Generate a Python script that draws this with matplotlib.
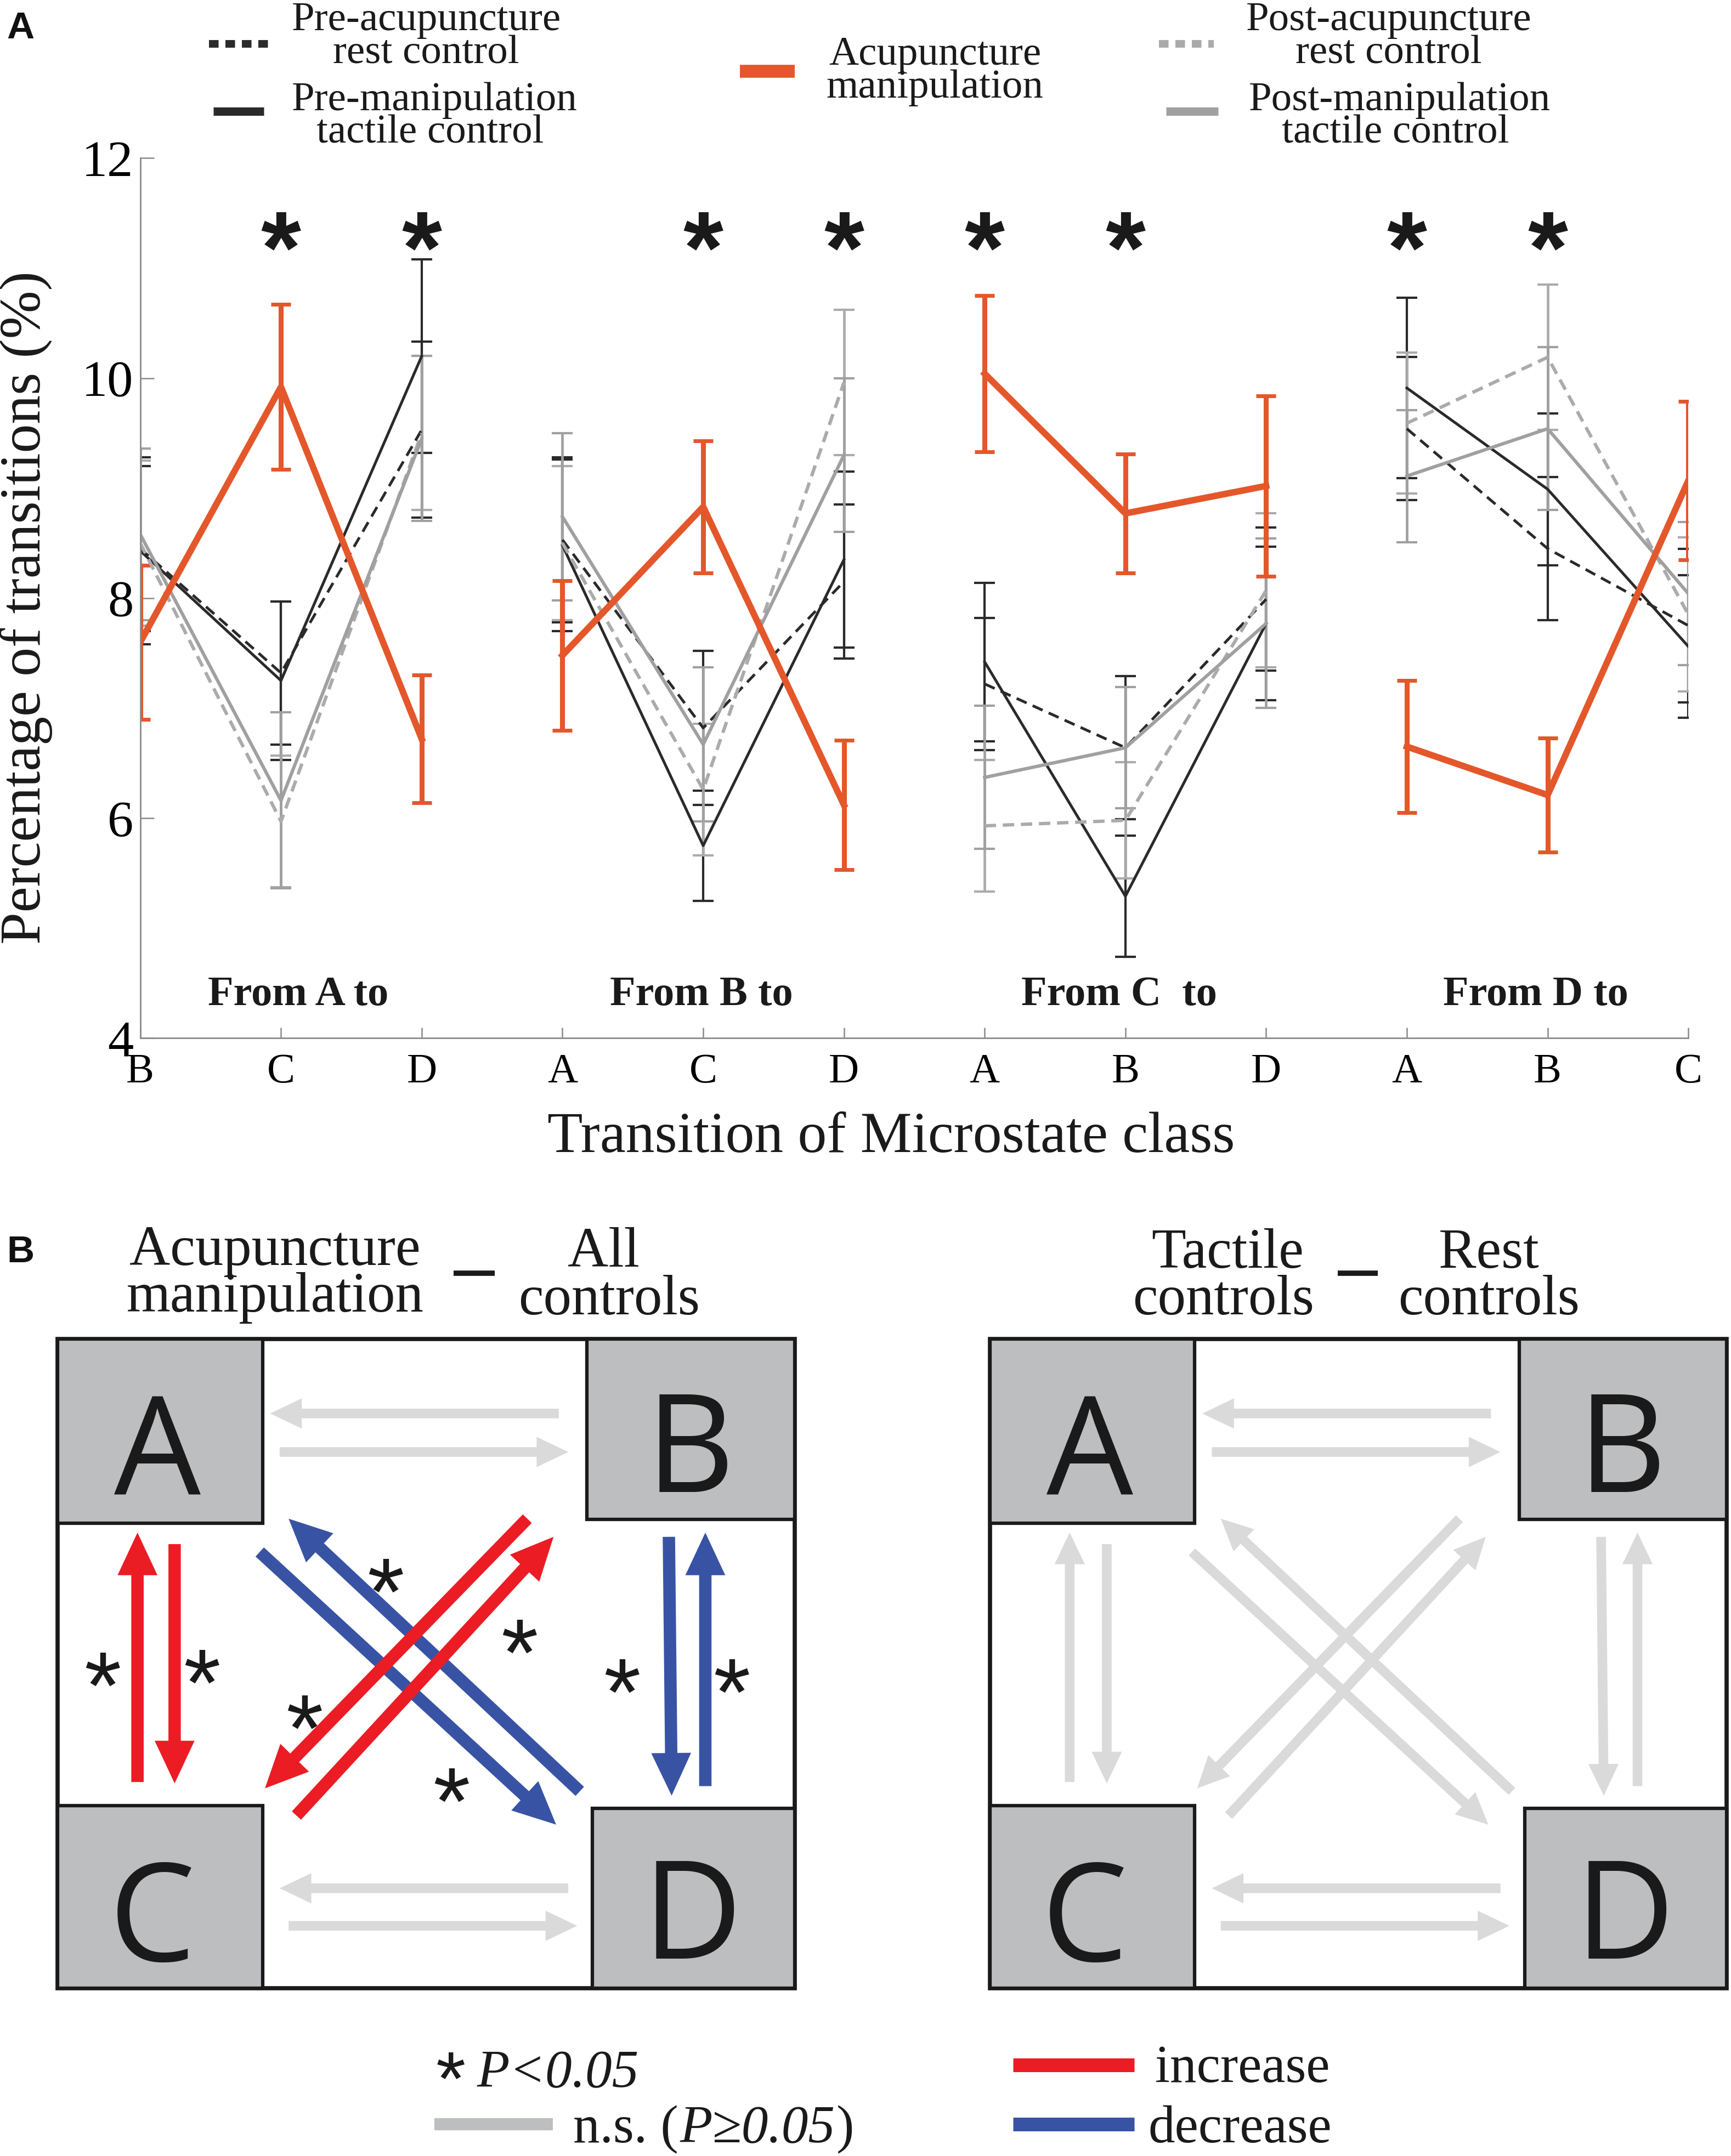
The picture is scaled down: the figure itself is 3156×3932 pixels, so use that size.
import matplotlib
matplotlib.use('Agg')
import matplotlib.pyplot as plt
from matplotlib.patches import Rectangle, FancyArrow
import numpy as np

# ---------------- data (panel A) ----------------
tick_labels = ['B', 'C', 'D', 'A', 'C', 'D', 'A', 'B', 'D', 'A', 'B', 'C']
group_labels = ['From A to', 'From B to', 'From C  to', 'From D to']

pre_rest = [8.45, 7.32, 9.53, 8.53, 6.82, 8.15, 7.22, 6.64, 7.99, 9.54, 8.45, 7.75]
pre_rest_err = [0.75, 0.65, 0.80, 0.75, 0.70, 0.70, 0.60, 0.65, 0.65, 0.65, 0.65, 0.70]
pre_tactile = [8.43, 7.25, 10.20, 8.48, 5.75, 8.35, 7.42, 5.29, 7.77, 9.91, 8.99, 7.56]
pre_tactile_err = [0.85, 0.72, 0.88, 0.78, 0.50, 0.80, 0.72, 0.55, 0.70, 0.82, 0.69, 0.65]
post_rest = [8.50, 5.97, 9.50, 8.50, 6.26, 9.96, 5.93, 5.98, 8.07, 9.59, 10.19, 7.85]
post_rest_err = [0.75, 0.60, 0.70, 0.70, 0.60, 0.66, 0.60, 0.53, 0.70, 0.64, 0.66, 0.70]
post_tactile = [8.58, 6.16, 9.45, 8.74, 6.67, 9.30, 6.37, 6.64, 7.77, 9.11, 9.54, 8.04]
post_tactile_err = [0.78, 0.80, 0.75, 0.76, 0.70, 0.70, 0.65, 0.55, 0.77, 0.60, 0.74, 0.65]
acup = [7.60, 9.92, 6.72, 7.48, 8.83, 6.12, 10.04, 8.77, 9.02, 6.65, 6.21, 9.07]
acup_err = [0.70, 0.75, 0.58, 0.68, 0.60, 0.59, 0.71, 0.54, 0.82, 0.60, 0.52, 0.72]
significant = [1, 2, 4, 5, 6, 7, 9, 10]
yticks = [4, 6, 8, 10, 12]

# ---------------- data (panel B) ----------------
effect_left = {('A', 'B'): 'ns', ('B', 'A'): 'ns', ('C', 'D'): 'ns', ('D', 'C'): 'ns',
               ('A', 'C'): 'inc', ('C', 'A'): 'inc', ('B', 'C'): 'inc', ('C', 'B'): 'inc',
               ('B', 'D'): 'dec', ('D', 'B'): 'dec', ('A', 'D'): 'dec', ('D', 'A'): 'dec'}
effect_right = {k: 'ns' for k in effect_left}

SERIF = ['Liberation Serif', 'DejaVu Serif']
SANS = ['Liberation Sans', 'DejaVu Sans']
BOXFONT = ['Open Sans', 'DejaVu Sans']

ORANGE = '#E4572B'
BLACK = '#2A2A2A'
GRAY = '#A0A0A0'
GRAYD = '#ABABAB'
RED = '#EC1C24'
BLUE = '#3953A4'
NSGRAY = '#DADADA'
BOXGRAY = '#BCBEC0'

W, H = 1259.0, 1568.0
fig = plt.figure(figsize=(31.56, 39.32), dpi=100)
ov = fig.add_axes([0, 0, 1, 1])
ov.set_xlim(0, W)
ov.set_ylim(H, 0)
ov.axis('off')
ov.set_zorder(0)

# ---------------- panel A ----------------
ax = fig.add_axes([102 / W, 1 - 755 / H, 1126 / W, 640 / H])
ax.set_zorder(1)
ax.set_facecolor('none')
x = np.arange(len(tick_labels))

series = [
    (pre_rest, pre_rest_err, BLACK, (0, (4.0, 2.4)), 3.6, 3.0),
    (pre_tactile, pre_tactile_err, BLACK, '-', 3.6, 3.0),
    (post_rest, post_rest_err, GRAYD, (0, (3.4, 2.0)), 4.4, 3.4),
    (post_tactile, post_tactile_err, GRAY, '-', 4.4, 3.4),
    (acup, acup_err, ORANGE, '-', 8.5, 6.5),
]
for vals, errs, col, ls, lw, elw in series:
    vals = np.asarray(vals)
    errs = np.asarray(errs)
    for g in range(4):
        s = slice(3 * g, 3 * g + 3)
        cs = 13 if col == ORANGE else 14
        ct = 5 if col == ORANGE else 3
        ax.errorbar(x[s], vals[s], yerr=errs[s], color=col, lw=lw, ls=ls,
                    elinewidth=elw, capsize=cs, capthick=ct)

ax.set_xlim(0, 11)
ax.set_ylim(4, 12)
ax.set_xticks(x)
ax.set_xticklabels(tick_labels, fontsize=55, family=SERIF)
ax.set_yticks(yticks)
ax.set_yticklabels([str(v) for v in yticks], fontsize=68, family=SERIF)
for sp in ['top', 'right']:
    ax.spines[sp].set_visible(False)
for sp in ['left', 'bottom']:
    ax.spines[sp].set_color('#8A8A8A')
    ax.spines[sp].set_linewidth(2)
ax.tick_params(axis='y', direction='in', length=18, width=1.8, color='#8A8A8A', pad=9)
ax.tick_params(axis='x', direction='in', length=14, width=1.8, color='#8A8A8A', pad=20)
# first x label sits slightly right of its tick in the reference
ax.get_xticklabels()[0].set_x(0.06)

for p in significant:
    ax.text(p, 10.87, '*', ha='center', va='baseline', fontsize=135,
            fontweight='bold', family=SANS, color='#1A1A1A')

for lab, cx in zip(group_labels, [217, 510, 814, 1117]):
    ov.text(cx, 731, lab, ha='center', va='baseline', fontsize=55,
            fontweight='bold', family=SERIF, color='#1A1A1A')

ov.text(19, 442, 'Percentage of transitions (%)', rotation=90, ha='center',
        va='center', fontsize=76, family=SERIF, color='#1A1A1A')
ov.text(648, 838, 'Transition of Microstate class', ha='center', va='baseline',
        fontsize=76, family=SERIF, color='#1A1A1A')

# legend
ov.plot([152, 196], [32, 32], color=BLACK, lw=10, ls=(0, (1.26, 0.9)))
ov.plot([155, 192], [81, 81], color=BLACK, lw=11, solid_capstyle='butt')
ov.plot([538, 578], [52, 52], color=ORANGE, lw=17, solid_capstyle='butt')
ov.plot([843, 883], [32, 32], color='#AAAAAA', lw=10, ls=(0, (1.26, 0.9)))
ov.plot([848, 886], [81, 81], color=GRAY, lw=11, solid_capstyle='butt')
leg_txt = [
    (310, 22, 'Pre-acupuncture'), (310, 46, 'rest control'),
    (316, 80, 'Pre-manipulation'), (313, 104, 'tactile control'),
    (680, 47, 'Acupuncture'), (680, 71, 'manipulation'),
    (1010, 22, 'Post-acupuncture'), (1010, 46, 'rest control'),
    (1018, 80, 'Post-manipulation'), (1015, 104, 'tactile control'),
]
for cx, by, s in leg_txt:
    ov.text(cx, by, s, ha='center', va='baseline', fontsize=54, family=SERIF,
            color='#1A1A1A')

ov.text(5, 28, 'A', ha='left', va='baseline', fontsize=50, fontweight='bold',
        family=SANS, color='#111111')
ov.text(5, 918, 'B', ha='left', va='baseline', fontsize=50, fontweight='bold',
        family=SANS, color='#111111')

# ---------------- panel B ----------------
arrows_geom = {
    ('B', 'A'): (406.4, 1028, 196.5, 1028),
    ('A', 'B'): (203.4, 1056, 413.3, 1056),
    ('D', 'C'): (413.3, 1373.3, 203.4, 1373.3),
    ('C', 'D'): (209.9, 1400.6, 419.8, 1400.6),
    ('C', 'A'): (100, 1296, 100, 1114.6),
    ('A', 'C'): (127, 1123, 127, 1297),
    ('B', 'D'): (486.5, 1117.7, 488.5, 1305.9),
    ('D', 'B'): (513, 1299, 513, 1114.6),
    ('D', 'A'): (421.7, 1302.8, 209.9, 1104.5),
    ('A', 'D'): (188.9, 1128.7, 404.5, 1327),
    ('B', 'C'): (383.5, 1104.5, 192.7, 1300.6),
    ('C', 'B'): (215.6, 1320.4, 402.6, 1117.7),
}
star_pos = {('C', 'A'): (74.4, 1210), ('A', 'C'): (146.9, 1208),
            ('D', 'A'): (280.5, 1142), ('C', 'B'): (377.8, 1186),
            ('B', 'C'): (221.3, 1241), ('A', 'D'): (328.2, 1294),
            ('B', 'D'): (452.2, 1214.7), ('D', 'B'): (532.3, 1214.7)}
boxes = {'A': (42, 974, 149, 134, 114.5, 1051.6),
         'B': (427, 974, 151, 131, 501.8, 1049.4),
         'C': (42, 1313, 149, 133, 110.7, 1390.9),
         'D': (431, 1315, 147, 131, 503.7, 1388.7)}


def diagram(off, effects):
    ov.add_patch(Rectangle((42 + off, 974), 536, 472, facecolor='white',
                           edgecolor='#1A1A1A', lw=5.5, zorder=1))
    for k, (bx, by, bw, bh, lx, ly) in boxes.items():
        ov.add_patch(Rectangle((bx + off, by), bw, bh, facecolor=BOXGRAY,
                               edgecolor='#1A1A1A', lw=4.5, zorder=2))
        ov.text(lx + off, ly + 35.6, k, ha='center', va='baseline', fontsize=180,
                family=BOXFONT, color='#1A1A1A', zorder=3)
    order = sorted(arrows_geom, key=lambda t: {'ns': 0, 'dec': 1, 'inc': 2}[effects[t]])
    for key in order:
        x0, y0, x1, y1 = arrows_geom[key]
        eff = effects[key]
        if eff == 'ns':
            col, w, hw, hl = NSGRAY, 7, 22, 23
        else:
            col, w, hw, hl = (RED if eff == 'inc' else BLUE), 9, 29, 31
        ov.add_patch(FancyArrow(x0 + off, y0, x1 - x0, y1 - y0, width=w,
                                head_width=hw, head_length=hl,
                                length_includes_head=True, color=col, lw=0,
                                zorder=4))
        if eff != 'ns' and key in star_pos:
            sx, sy = star_pos[key]
            ov.text(sx + off, sy + 39.6, '*', ha='center', va='baseline',
                    fontsize=125, family=SANS, color='#1A1A1A', zorder=5)


diagram(0, effect_left)
diagram(678, effect_right)

titles = [(200, 920, 'Acupuncture'), (200, 954, 'manipulation'),
          (439, 921, 'All'), (443, 956, 'controls'),
          (893, 922, 'Tactile'), (890, 956, 'controls'),
          (1083, 922, 'Rest'), (1083, 956, 'controls')]
for cx, by, s in titles:
    ov.text(cx, by, s, ha='center', va='baseline', fontsize=74, family=SERIF,
            color='#1A1A1A')
ov.plot([330, 360], [926, 926], color='#1A1A1A', lw=7, solid_capstyle='butt')
ov.plot([973, 1002], [926, 926], color='#1A1A1A', lw=7, solid_capstyle='butt')

# bottom legend
renderer = fig.canvas.get_renderer()
inv = ov.transData.inverted()


def seq_text(x0, y0, pieces, size):
    cur = x0
    for s, style in pieces:
        t = ov.text(cur, y0, s, ha='left', va='baseline', fontsize=size,
                    family=SERIF, fontstyle=style, color='#1A1A1A')
        bb = t.get_window_extent(renderer)
        cur = inv.transform((bb.x1, bb.y0))[0] + 1.0


ov.text(328, 1530.6, '*', ha='center', va='baseline', fontsize=100, family=SANS,
        color='#1A1A1A')
seq_text(347, 1518, [('P<0.05', 'italic')], 70)
ov.plot([316, 402], [1545, 1545], color=BOXGRAY, lw=16, solid_capstyle='butt')
seq_text(417, 1558, [('n.s. (', 'normal'), ('P≥0.05', 'italic'), (')', 'normal')], 70)
ov.plot([737, 825], [1502, 1502], color=RED, lw=18, solid_capstyle='butt')
ov.text(840, 1514, 'increase', ha='left', va='baseline', fontsize=70, family=SERIF,
        color='#1A1A1A')
ov.plot([737, 825], [1545, 1545], color=BLUE, lw=18, solid_capstyle='butt')
ov.text(835, 1558, 'decrease', ha='left', va='baseline', fontsize=70, family=SERIF,
        color='#1A1A1A')

fig.savefig('out.png', dpi=100)
